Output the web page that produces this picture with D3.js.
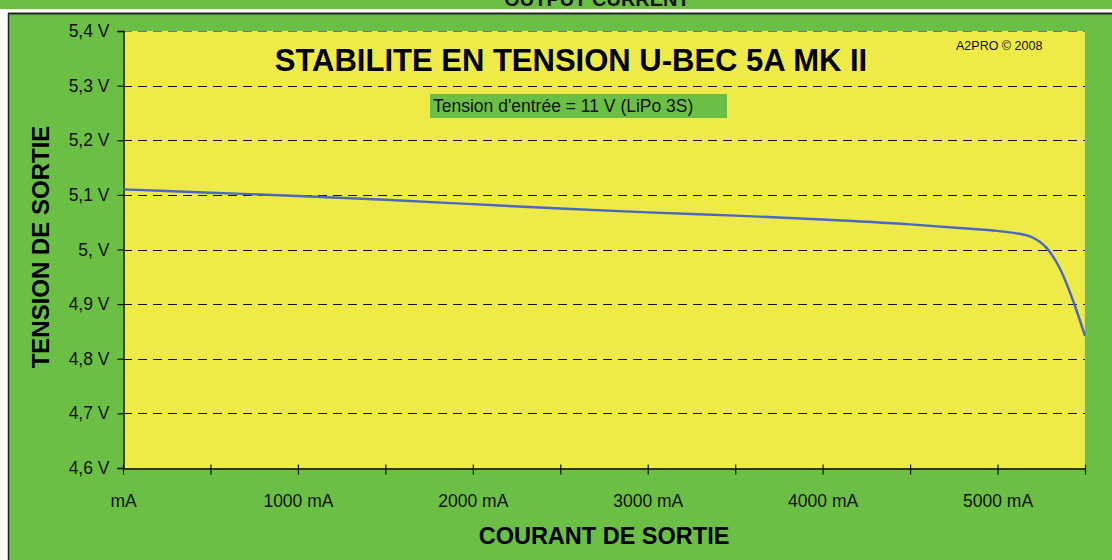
<!DOCTYPE html>
<html>
<head>
<meta charset="utf-8">
<script src="https://cdn.jsdelivr.net/npm/d3@7"></script>
<style>
  body { margin: 0; background: #fff; }
  svg { display: block; font-family: "Liberation Sans", Arial, sans-serif; }
</style>
</head>
<body>
<div id="viz"></div>
<script>
// courant de sortie (mA) et tension mesuree (V)
var courant = [0, 500, 1000, 1500, 2000, 2500, 3000, 3500, 4000, 4500, 4800, 5000, 5100, 5200, 5280, 5360, 5430, 5500];
var tension = [5.110, 5.104, 5.098, 5.091, 5.083, 5.075, 5.068, 5.062, 5.055, 5.046, 5.039, 5.034, 5.030, 5.022, 5.003, 4.963, 4.908, 4.842];
var yTicks = [4.6, 4.7, 4.8, 4.9, 5.0, 5.1, 5.2, 5.3, 5.4];
var yLabels = ["4,6 V", "4,7 V", "4,8 V", "4,9 V", "5, V", "5,1 V", "5,2 V", "5,3 V", "5,4 V"];
var xTicks = [0, 500, 1000, 1500, 2000, 2500, 3000, 3500, 4000, 4500, 5000, 5500];
var xLabels = {0: "mA", 1000: "1000 mA", 2000: "2000 mA", 3000: "3000 mA", 4000: "4000 mA", 5000: "5000 mA"};

var W = 1112, H = 560;
var green = "#6cbf45", yellow = "#eeea47";
var m = {left: 123, right: 1085, top: 31, bottom: 468};

var svg = d3.select("#viz").append("svg").attr("width", W).attr("height", H);

// fond
svg.append("rect").attr("width", W).attr("height", H).attr("fill", green);
svg.append("rect").attr("x", 0).attr("y", 9).attr("width", W).attr("height", 4).attr("fill", "#fff");
svg.append("rect").attr("x", 0).attr("y", 13).attr("width", 8).attr("height", H).attr("fill", "#fff");
svg.append("line").attr("x1", 8).attr("x2", W).attr("y1", 13.5).attr("y2", 13.5).attr("stroke", "#222").attr("stroke-width", 2);
svg.append("line").attr("x1", 8.5).attr("x2", 8.5).attr("y1", 13).attr("y2", H).attr("stroke", "#222").attr("stroke-width", 1.5);

// titre du graphe precedent, coupe en haut comme sur l'original
svg.append("text").attr("x", 597).attr("y", 6).attr("text-anchor", "middle")
  .style("font-size", "20px").style("font-weight", "bold").attr("fill", "#111").text("OUTPUT CURRENT");

var x = d3.scaleLinear().domain([0, 5500]).range([m.left, m.right]);
var y = d3.scaleLinear().domain([4.6, 5.4]).range([m.bottom, m.top]);

svg.append("rect").attr("x", m.left).attr("y", m.top)
  .attr("width", m.right - m.left).attr("height", m.bottom - m.top).attr("fill", yellow);

// grille
svg.append("g").selectAll("line").data(yTicks.slice(1)).enter().append("line")
  .attr("x1", m.left).attr("x2", m.right)
  .attr("y1", function(d){ return Math.round(y(d)) + 0.5; })
  .attr("y2", function(d){ return Math.round(y(d)) + 0.5; })
  .attr("stroke", function(d){ return d === 5.4 ? "#777" : "#111"; })
  .attr("stroke-width", 1.2)
  .attr("stroke-dasharray", "9,6");

// bord droit
svg.append("line").attr("x1", m.right + 0.5).attr("x2", m.right + 0.5).attr("y1", m.top).attr("y2", m.bottom)
  .attr("stroke", "#999").attr("stroke-width", 1.2);

// axe Y
var yAxis = d3.axisLeft(y).tickValues(yTicks).tickSize(6).tickPadding(8)
  .tickFormat(function(d, i){ return yLabels[i]; });
var gy = svg.append("g").attr("transform", "translate(" + (m.left + 0.5) + ",0)").call(yAxis);
gy.select(".domain").attr("stroke", "#111").attr("stroke-width", 1.5);
gy.selectAll(".tick line").attr("stroke", "#111").attr("stroke-width", 1.2);
gy.selectAll(".tick text").style("font-size", "17.5px").attr("fill", "#111")
  .attr("font-family", "Liberation Sans, Arial, sans-serif");

// axe X
var xAxis = d3.axisBottom(x).tickValues(xTicks).tickSizeInner(6).tickSizeOuter(0).tickPadding(20)
  .tickFormat(function(d){ return xLabels[d] || ""; });
var gx = svg.append("g").attr("transform", "translate(0," + (m.bottom + 0.5) + ")").call(xAxis);
gx.select(".domain").attr("stroke", "#111").attr("stroke-width", 1.5);
gx.selectAll(".tick line").attr("y1", -4).attr("stroke", "#111").attr("stroke-width", 1.2);
gx.selectAll(".tick text").style("font-size", "17.5px").attr("fill", "#111")
  .attr("font-family", "Liberation Sans, Arial, sans-serif");

// courbe
var pts = courant.map(function(c, i){ return [c, tension[i]]; });
var line = d3.line().x(function(d){ return x(d[0]); }).y(function(d){ return y(d[1]); })
  .curve(d3.curveMonotoneX);
svg.append("path").datum(pts).attr("d", line)
  .attr("fill", "none").attr("stroke", "#4a67c2").attr("stroke-width", 2.4);

// textes
svg.append("text").attr("x", 571).attr("y", 71).attr("text-anchor", "middle")
  .style("font-size", "31px").style("font-weight", "bold").attr("fill", "#000")
  .text("STABILITE EN TENSION U-BEC 5A MK II");
svg.append("text").attr("x", 956).attr("y", 50)
  .style("font-size", "12.5px").attr("fill", "#111").text("A2PRO © 2008");

svg.append("rect").attr("x", 430).attr("y", 94).attr("width", 297).attr("height", 24).attr("fill", green);
svg.append("text").attr("x", 433).attr("y", 112)
  .style("font-size", "17.5px").attr("fill", "#111").text("Tension d'entrée = 11 V (LiPo 3S)");

svg.append("text").attr("x", 604).attr("y", 544).attr("text-anchor", "middle")
  .style("font-size", "23.5px").style("font-weight", "bold").attr("fill", "#000").text("COURANT DE SORTIE");
svg.append("text").attr("transform", "translate(49,247) rotate(-90)").attr("text-anchor", "middle")
  .style("font-size", "24px").style("font-weight", "bold").attr("fill", "#000").text("TENSION DE SORTIE");
</script>
</body>
</html>
